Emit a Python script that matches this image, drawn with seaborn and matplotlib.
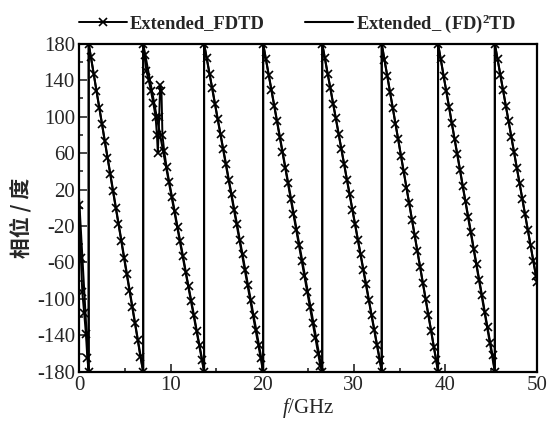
import numpy as np
import pandas as pd
import seaborn as sns
import matplotlib.pyplot as plt

# Extended_FDTD samples (frequency in GHz, phase in degrees)
fdtd_freq = [
    0.0, 0.2, 0.35, 0.55, 0.75, 0.9, 1.05,
    1.05, 1.3, 1.6, 1.9, 2.2, 2.5, 2.8, 3.1, 3.4, 3.7, 4.0, 4.3, 4.6, 4.9,
    5.2, 5.5, 5.8, 6.1, 6.4, 6.7, 7.0,
    7.0, 7.15, 7.35, 7.6, 7.85, 8.1, 8.35, 8.5, 8.6, 8.75, 8.85, 9.0, 9.1,
    9.3, 9.55, 9.85, 10.15, 10.45, 10.75, 11.05, 11.35, 11.65, 11.95, 12.25,
    12.55, 12.85, 13.15, 13.45, 13.65,
    13.65, 13.95, 14.25, 14.55, 14.85, 15.15, 15.45, 15.75, 16.05, 16.35,
    16.65, 16.95, 17.25, 17.55, 17.85, 18.15, 18.45, 18.75, 19.05, 19.35,
    19.65, 19.9, 20.1,
    20.1, 20.4, 20.7, 21.0, 21.3, 21.6, 21.9, 22.2, 22.5, 22.8, 23.1, 23.4,
    23.7, 24.0, 24.3, 24.6, 24.9, 25.2, 25.5, 25.8, 26.1, 26.35, 26.55,
    26.55, 26.85, 27.15, 27.45, 27.75, 28.05, 28.35, 28.65, 28.95, 29.25,
    29.55, 29.85, 30.15, 30.45, 30.75, 31.05, 31.35, 31.65, 31.95, 32.25,
    32.55, 32.85, 33.05,
    33.05, 33.35, 33.65, 33.95, 34.25, 34.55, 34.85, 35.15, 35.45, 35.75,
    36.05, 36.35, 36.65, 36.95, 37.25, 37.55, 37.85, 38.15, 38.45, 38.75,
    39.0, 39.2,
    39.2, 39.5, 39.8, 40.1, 40.4, 40.7, 41.0, 41.3, 41.6, 41.9, 42.2, 42.5,
    42.8, 43.1, 43.4, 43.7, 44.0, 44.3, 44.6, 44.9, 45.15, 45.4,
    45.4, 45.7, 46.0, 46.3, 46.6, 46.9, 47.2, 47.5, 47.8, 48.1, 48.4, 48.7,
    49.0, 49.3, 49.6, 49.9, 50.0,
]
fdtd_phase = [
    3, -55, -93, -115, -139, -165, -180,
    180, 165, 147, 128, 110, 92, 73, 55, 37, 18, 0, -18, -36, -55,
    -73, -91, -109, -127, -145, -164, -180,
    180, 168, 150, 140, 128, 115, 100, 80, 60, 100, 135, 128, 80,
    62, 45, 28, 12, -4, -21, -37, -53, -70, -86, -102,
    -118, -135, -151, -167, -180,
    180, 164, 147, 131, 114, 97, 81, 64, 48, 31,
    15, -2, -18, -35, -51, -68, -85, -101, -118, -134,
    -151, -165, -180,
    180, 163, 146, 129, 112, 95, 78, 61, 44, 27, 10, -7,
    -24, -41, -58, -75, -92, -109, -126, -143, -160, -174, -180,
    180, 164, 147, 131, 114, 98, 81, 64, 48, 31,
    15, -2, -18, -35, -51, -68, -84, -101, -118, -134,
    -151, -167, -180,
    180, 162, 145, 127, 110, 92, 75, 57, 40, 22,
    5, -13, -30, -48, -65, -83, -100, -118, -135, -153,
    -167, -180,
    180, 163, 145, 128, 111, 93, 76, 59, 42, 24, 7, -10,
    -27, -45, -62, -79, -96, -114, -131, -148, -162, -180,
    180, 163, 146, 129, 112, 95, 78, 61, 44, 27, 10, -7,
    -24, -41, -58, -75, -81,
]

# Extended_(FD)^2TD: plain line, vertices at the start, wraps and end
fd2td_freq = [0.0, 1.05, 1.05, 7.0, 7.0, 13.65, 13.65, 20.1, 20.1, 26.55,
              26.55, 33.05, 33.05, 39.2, 39.2, 45.4, 45.4, 50.0]
fd2td_phase = [10, -180, 180, -180, 180, -180, 180, -180, 180, -180,
               180, -180, 180, -180, 180, -180, 180, -81]

x_ticks = [0, 10, 20, 30, 40, 50]
y_ticks = [-180, -140, -100, -60, -20, 20, 60, 100, 140, 180]

sns.set_style("ticks")
plt.rcParams['font.family'] = ['Liberation Serif', 'Noto Sans CJK SC']
plt.rcParams['mathtext.fontset'] = 'custom'
plt.rcParams['mathtext.it'] = 'Liberation Serif:italic'
plt.rcParams['mathtext.rm'] = 'Liberation Serif'
plt.rcParams['mathtext.bf'] = 'Liberation Serif:bold'
plt.rcParams['axes.unicode_minus'] = False

fig = plt.figure(figsize=(5.53, 4.21), dpi=100)
ax = fig.add_axes([0.143, 0.117, 0.828, 0.779])

df1 = pd.DataFrame({'f': fdtd_freq, 'phase': fdtd_phase})
df2 = pd.DataFrame({'f': fd2td_freq, 'phase': fd2td_phase})

sns.lineplot(data=df2, x='f', y='phase', ax=ax, color='black', lw=1.5,
             estimator=None, sort=False, label='Extended_ (FD)$^\\mathbf{2}$TD')
sns.lineplot(data=df1, x='f', y='phase', ax=ax, color='black', lw=1.4,
             marker='x', markersize=6, markeredgewidth=1.2, mec='black',
             estimator=None, sort=False, label='Extended_FDTD')

ax.set_xlim(0, 50)
ax.set_ylim(-180, 180)
ax.set_xticks(x_ticks)
ax.set_xticks([5, 15, 25, 35, 45], minor=True)
ax.set_yticks(y_ticks)
ax.set_yticks([-160, -120, -80, -40, 0, 40, 80, 120, 160], minor=True)
ax.tick_params(which='both', direction='in', top=False, right=False,
               labelsize=15, width=1.2, pad=3)
ax.tick_params(which='major', length=6)
ax.tick_params(which='minor', length=3)
for s in ax.spines.values():
    s.set_linewidth(1.6)
    s.set_color('black')

ax.set_xlabel(r'$f$/GHz', fontsize=15, labelpad=1)
ax.set_ylabel('相位 / 度', fontsize=15, fontweight='bold',
              family=['Noto Sans CJK SC', 'DejaVu Sans'])
ax.yaxis.set_label_coords(-0.105, 0.47)

handles, labels = ax.get_legend_handles_labels()
ax.legend(handles[::-1], labels[::-1], loc='lower left',
          bbox_to_anchor=(-0.02, 1.0), ncol=2, frameon=False,
          prop={'size': 13.3, 'weight': 'bold'}, handlelength=2.6,
          columnspacing=2.2, handletextpad=0.15, borderaxespad=0.3,
          borderpad=0.2)

fig.savefig('out.png', dpi=100)
